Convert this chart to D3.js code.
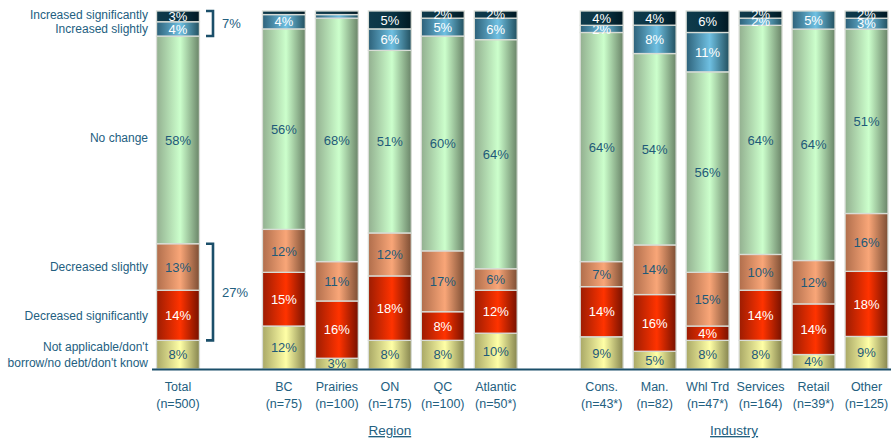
<!DOCTYPE html>
<html>
<head>
<meta charset="utf-8">
<script src="https://cdn.jsdelivr.net/npm/d3@7/dist/d3.min.js"></script>
<style>
  html, body { margin: 0; padding: 0; background: #fff; }
  svg { display: block; font-family: "Liberation Sans", Arial, sans-serif; }
</style>
</head>
<body>
<svg id="chart" width="891" height="440"></svg>
<script>
// Change in borrowing, by region and industry (percent of respondents)
const categories = ["Total", "BC", "Prairies", "ON", "QC", "Atlantic",
                    "Cons.", "Man.", "Whl Trd", "Services", "Retail", "Other"];
const sampleSizes = ["(n=500)", "(n=75)", "(n=100)", "(n=175)", "(n=100)", "(n=50*)",
                     "(n=43*)", "(n=82)", "(n=47*)", "(n=164)", "(n=39*)", "(n=125)"];
const regionMembers = ["BC", "Prairies", "ON", "QC", "Atlantic"];
const industryMembers = ["Cons.", "Man.", "Whl Trd", "Services", "Retail", "Other"];

const seriesNames = ["Not applicable/don't borrow/no debt/don't know", "Decreased significantly",
                     "Decreased slightly", "No change", "Increased slightly", "Increased significantly"];
const notApplicable          = [8, 12, 3, 8, 8, 10, 9, 5, 8, 8, 4, 9];
const decreasedSignificantly = [14, 15, 16, 18, 8, 12, 14, 16, 4, 14, 14, 18];
const decreasedSlightly      = [13, 12, 11, 12, 17, 6, 7, 14, 15, 10, 12, 16];
const noChange               = [58, 56, 68, 51, 60, 64, 64, 54, 56, 64, 64, 51];
const increasedSlightly      = [4, 4, 1, 6, 5, 6, 2, 8, 11, 2, 5, 3];
const increasedSignificantly = [3, 1, 1, 5, 2, 2, 4, 4, 6, 2, 0, 2];

const seriesValues = [notApplicable, decreasedSignificantly, decreasedSlightly,
                      noChange, increasedSlightly, increasedSignificantly];

// Left-hand legend labels (one or two lines each)
const legendLines = [["Not applicable/don't", "borrow/no debt/don't know"], ["Decreased significantly"],
                     ["Decreased slightly"], ["No change"], ["Increased slightly"], ["Increased significantly"]];

// Horizontal shading for each series: [left edge, highlight, right edge]
const shades = [
  ["#a9a866", "#ffffa6", "#86854f"],
  ["#9c1c02", "#ff3300", "#761100"],
  ["#b06e4c", "#f9a678", "#7d4e34"],
  ["#93b090", "#ccffcc", "#6a8468"],
  ["#2d6179", "#6fc0e2", "#22505f"],
  ["#0f3a4b", "#0a3444", "#001822"]
];
const labelInk = ["#1f5a78", "#ffffff", "#1f5a78", "#1f5a78", "#ffffff", "#ffffff"];
const accent = "#1b4f6a";
const textInk = "#23607f";

const svg = d3.select("#chart");
const defs = svg.append("defs");
shades.forEach((s, i) => {
  const g = defs.append("linearGradient").attr("id", "shade" + i)
    .attr("x1", "0%").attr("x2", "100%").attr("y1", "0%").attr("y2", "0%");
  g.append("stop").attr("offset", "0%").attr("stop-color", s[0]);
  g.append("stop").attr("offset", "55%").attr("stop-color", s[1]);
  g.append("stop").attr("offset", "100%").attr("stop-color", s[2]);
});

// Rows for the stack
const rows = categories.map((c, i) => {
  const r = { category: c };
  seriesValues.forEach((vals, k) => { r[k] = vals[i]; });
  return r;
});
const stack = d3.stack().keys(d3.range(seriesValues.length)).offset(d3.stackOffsetExpand);
const layers = stack(rows);

// Slots include two empty spacers that separate Total / Region / Industry
const slots = ["Total", "spacer-1", ...regionMembers, "spacer-2", ...industryMembers];
const x = d3.scaleBand().domain(slots).range([151.5, 893]).paddingInner(0.19).paddingOuter(0.095);
const y = d3.scaleLinear().domain([0, 1]).range([369, 11]);

// Bars
const layerG = svg.append("g").selectAll("g").data(layers).join("g");
layerG.selectAll("rect")
  .data(d => d.map(p => ({ p, key: d.key })))
  .join("rect")
  .attr("x", d => x(d.p.data.category))
  .attr("width", x.bandwidth())
  .attr("y", d => y(d.p[1]))
  .attr("height", d => Math.max(0, y(d.p[0]) - y(d.p[1])))
  .attr("fill", d => `url(#shade${d.key})`)
  .attr("stroke", "#d8dcd6")
  .attr("stroke-width", 1.3);

// Value labels
layerG.selectAll("text")
  .data(d => d.map(p => ({ p, key: d.key })).filter(d => d.p.data[d.key] >= 2))
  .join("text")
  .attr("x", d => x(d.p.data.category) + x.bandwidth() / 2)
  .attr("y", d => (y(d.p[0]) + y(d.p[1])) / 2)
  .attr("dy", "0.36em")
  .attr("text-anchor", "middle")
  .attr("font-size", 13)
  .attr("fill", d => labelInk[d.key])
  .text(d => d.p.data[d.key] + "%");

// Baseline
svg.append("line")
  .attr("x1", 152).attr("x2", 891)
  .attr("y1", y(0) + 0.5).attr("y2", y(0) + 0.5)
  .attr("stroke", accent).attr("stroke-width", 2);

// Category axis labels
const xl = svg.append("g");
categories.forEach((c, i) => {
  const cx = x(c) + x.bandwidth() / 2;
  const t = xl.append("text").attr("x", cx).attr("y", 391)
    .attr("text-anchor", "middle").attr("font-size", 12.5).attr("fill", textInk);
  t.append("tspan").attr("x", cx).text(c);
  t.append("tspan").attr("x", cx).attr("dy", 17).text(sampleSizes[i]);
});

// Group titles (underlined)
[["Region", regionMembers], ["Industry", industryMembers]].forEach(([name, members]) => {
  const cx = (x(members[0]) + x(members[members.length - 1]) + x.bandwidth()) / 2;
  svg.append("text").attr("x", cx).attr("y", 435)
    .attr("text-anchor", "middle").attr("font-size", 13.5).attr("fill", textInk)
    .attr("text-decoration", "underline").text(name);
});

// Legend labels beside the Total bar
const totalLayers = layers.map(l => l[0]);
legendLines.forEach((lines, k) => {
  const seg = totalLayers[k];
  let cy = (y(seg[0]) + y(seg[1])) / 2;
  if (k === 5) cy -= 2;
  if (k === 3) cy -= 2;
  const t = svg.append("text").attr("text-anchor", "end").attr("font-size", 12)
    .attr("fill", textInk);
  const lh = 16;
  lines.forEach((ln, j) => {
    t.append("tspan").attr("x", 148)
      .attr("y", cy + (j - (lines.length - 1) / 2) * lh)
      .attr("dy", "0.35em").text(ln);
  });
});

// Brackets summarising net increase / net decrease for the Total bar
function bracket(lo, hi, label) {
  const top = y(hi), bottom = y(lo);
  const bx = 213, tick = 7;
  svg.append("path")
    .attr("d", `M${bx - tick},${top}H${bx}V${bottom}H${bx - tick}`)
    .attr("fill", "none").attr("stroke", accent).attr("stroke-width", 2.6);
  svg.append("text").attr("x", bx + 9).attr("y", (top + bottom) / 2)
    .attr("dy", "0.36em").attr("font-size", 13).attr("fill", textInk).text(label);
}
const inc = increasedSlightly[0] + increasedSignificantly[0];
const dec = decreasedSlightly[0] + decreasedSignificantly[0];
bracket(totalLayers[4][0], totalLayers[5][1], inc + "%");
bracket(totalLayers[1][0], totalLayers[2][1], dec + "%");
</script>
</body>
</html>
